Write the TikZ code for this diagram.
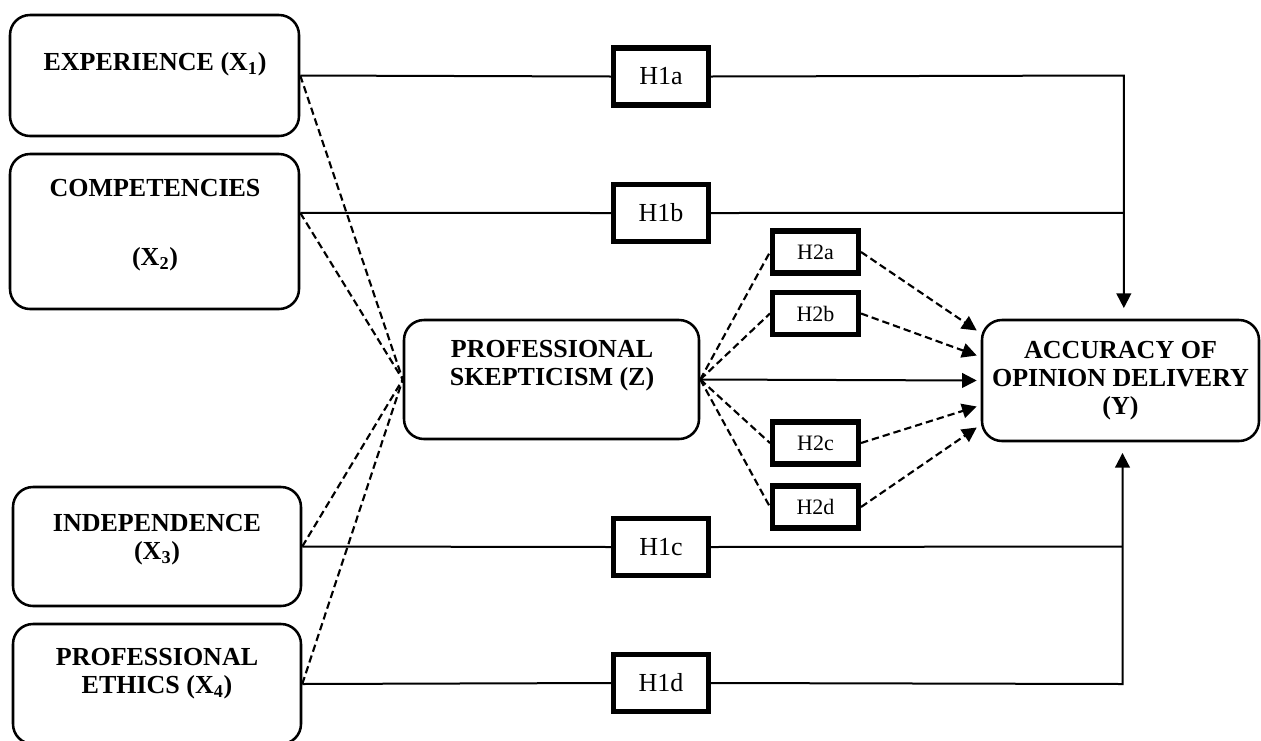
\documentclass[tikz,border=0pt]{standalone}
\usepackage{fontspec}
\setmainfont{Liberation Serif}
\usetikzlibrary{calc,arrows.meta,positioning}
\tikzset{
	varbox/.style={draw, line width=1.9pt, rounded corners=15pt, fill=white, inner sep=0pt},
	vartext/.style={font=\fontsize{19.5}{21}\selectfont\bfseries, align=center, inner sep=0pt},
	hypbox/.style={draw, line width=3.8pt, fill=white, inner sep=0pt, minimum width=71.25pt, minimum height=42.75pt, font=\fontsize{19.5}{21}\selectfont},
	hypsmall/.style={hypbox, minimum width=64.5pt, minimum height=31.5pt, font=\fontsize{16.5}{18}\selectfont},
	conn/.style={line width=1.5pt},
	dconn/.style={line width=1.6pt, dash pattern=on 5.5pt off 3pt},
	arr/.style={-{Triangle[length=11pt,width=11pt]}}
}

\begin{document}
\begin{tikzpicture}[x=0.75pt,y=-0.75pt]
		%%%%% START %%%%%
		\useasboundingbox (0,0) rectangle (1261,740);
		
		% variables
		\node[varbox, minimum width=216.75pt, minimum height=90.75pt] (x1) at (154.5,75.5) {};
		\node[varbox, minimum width=216.75pt, minimum height=116.25pt] (x2) at (154.5,231.5) {};
		\node[varbox, minimum width=216pt, minimum height=89.25pt] (x3) at (157,546.5) {};
		\node[varbox, minimum width=216pt, minimum height=90pt] (x4) at (157,684) {};
		\node[varbox, minimum width=221.25pt, minimum height=89.25pt] (z) at (551.5,379.5) {};
		\node[varbox, vartext, minimum width=207.75pt, minimum height=90.75pt] (yv) at (1120.5,380.5) {ACCURACY OF\\OPINION DELIVERY\\(Y)};
		
		\node[vartext] (x1t) at (155,64) {EXPERIENCE (X\textsubscript{1})};
		\node[vartext] (x2t) at (155,225) {COMPETENCIES\\[31pt](X\textsubscript{2})};
		\node[vartext] (x3t) at (157,540) {INDEPENDENCE\\(X\textsubscript{3})};
		\node[vartext] (x4t) at (157,674) {PROFESSIONAL\\ETHICS (X\textsubscript{4})};
		\node[vartext] (zt) at (552,366) {PROFESSIONAL\\SKEPTICISM (Z)};
		
		% hypotheses
		\node[hypbox] (h1a) at (661,76.5) {H1a};
		\node[hypbox] (h1b) at (661,213) {H1b};
		\node[hypbox] (h1c) at (661,547) {H1c};
		\node[hypbox] (h1d) at (661,683) {H1d};
		
		\node[hypsmall] (h2a) at (815.5,252) {H2a};
		\node[hypsmall] (h2b) at (815.5,313.5) {H2b};
		\node[hypsmall] (h2c) at (815.5,443) {H2c};
		\node[hypsmall] (h2d) at (815.5,507) {H2d};
		
		\coordinate (x2o) at ($(x2.north east)!0.382!(x2.south east)$);
		\coordinate (ytop) at ([xshift=2.5pt,yshift=8pt]yv.north);
		\coordinate (ybot) at ([xshift=1.5pt,yshift=-8pt]yv.south);
		
		% direct paths
		\draw[conn] (x1.east) -- (h1a.west);
		\draw[conn, arr] (h1a.east) -- (x1.east -| ytop) -- (ytop);
		\draw[conn] (x2o) -- (h1b.west);
		\draw[conn] (h1b.east) -- (x2o -| ytop);
		\draw[conn] (x3.east) -- (h1c.west);
		\draw[conn] (h1c.east) -- (x3.east -| ybot);
		\draw[conn] (x4.east) -- (h1d.west);
		\draw[conn, arr] (h1d.east) -- (x4.east -| ybot) -- (ybot);
		
		% mediation
		\draw[dconn] (x1.east) -- (z.west);
		\draw[dconn] (x2o) -- (z.west);
		\draw[dconn] (x3.east) -- (z.west);
		\draw[dconn] (x4.east) -- (z.west);
		
		\draw[dconn] (z.east) -- (h2a.west);
		\draw[dconn] (z.east) -- (h2b.west);
		\draw[dconn] (z.east) -- (h2c.west);
		\draw[dconn] (z.east) -- (h2d.west);
		
		\draw[conn, arr] (z.east) -- ($(yv.west)+(-4,0)$);
		\draw[dconn, arr] (h2a.east) -- ($(yv.west)+(-4,-50)$);
		\draw[dconn, arr] (h2b.east) -- ($(yv.west)+(-4,-25)$);
		\draw[dconn, arr] (h2c.east) -- ($(yv.west)+(-4,26)$);
		\draw[dconn, arr] (h2d.east) -- ($(yv.west)+(-4,47)$);
		
		%%%%% END %%%%%
	\end{tikzpicture}
\end{document}
